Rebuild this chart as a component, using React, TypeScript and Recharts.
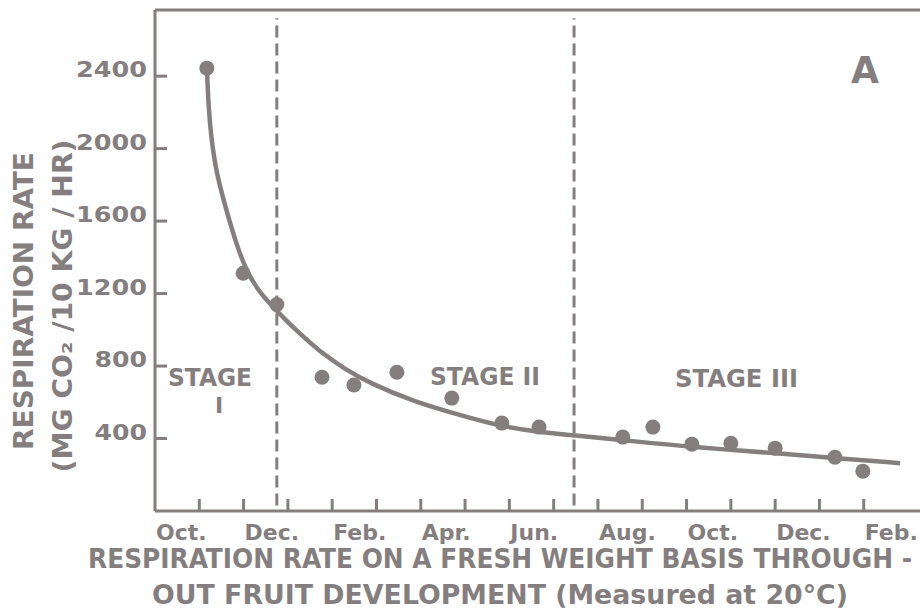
import React from 'react';
import { ComposedChart, Line, Scatter, XAxis, YAxis, ReferenceLine, Customized } from 'recharts';

const INK = '#847e7f';
const FONT = '"DejaVu Sans", "Open Sans", sans-serif';
const FONT_NARROW = '"DejaVu Sans Condensed", "DejaVu Sans", sans-serif';

// measured samples (month index from start of October, respiration rate)
const sampleMonths = [1.17, 1.99, 2.75, 3.77, 4.49, 5.46, 6.7, 7.83, 8.67, 10.56, 11.24, 12.12, 13.0, 14.0, 15.35, 15.98];
const sampleRates = [2444, 1312, 1140, 738, 695, 766, 623, 485, 463, 408, 463, 369, 374, 347, 297, 220];

// fitted curve
const curveMonths = [1.174, 1.208, 1.275, 1.388, 1.58, 1.806, 2.054, 2.325, 2.641, 3.047, 3.386, 3.77, 4.289, 4.853, 5.824, 6.885, 7.788, 8.691, 9.436, 10.56, 12.14, 14.04, 15.4, 16.82];
const curveRates = [2433, 2228, 2046, 1864, 1688, 1494, 1329, 1219, 1130, 1031, 954, 871, 783, 705, 606, 529, 468, 435, 418, 391, 352, 319, 291, 264];

// axes
const monthTicks = [0, 1, 2, 3, 4, 5, 6, 7, 8, 9, 10, 11, 12, 13, 14, 15, 16];
const monthLabels = ['Oct.', '', 'Dec.', '', 'Feb.', '', 'Apr.', '', 'Jun.', '', 'Aug.', '', 'Oct.', '', 'Dec.', '', 'Feb.'];
const rateTicks = [400, 800, 1200, 1600, 2000, 2400];
const xMax = 17.27;
const yMax = 2765;

// stage boundaries
const stageBoundaries = [2.75, 9.46];

const samples = sampleMonths.map((m, i) => ({ m, v: sampleRates[i] }));
const curve = curveMonths.map((m, i) => ({ m, v: curveRates[i] }));

const TICK_LEN = 12;

// custom ticks: inward tick mark + label
const XTick = (props: any) => {
  const { x, y, payload } = props;
  const idx = monthTicks.indexOf(payload.value);
  const label = monthLabels[idx];
  return (
    <g>
      {payload.value > 0 && (
        <path d={`M${x},${y} L${x},${y - TICK_LEN}`} stroke={INK} strokeWidth={3} fill="none" />
      )}
      {label && (
        <text x={x + 1} y={y + 29} textAnchor="start" fill={INK} fontFamily={FONT} fontSize={22} fontWeight="bold">
          {label}
        </text>
      )}
    </g>
  );
};

const YTick = (props: any) => {
  const { x, y, payload } = props;
  const label = String(payload.value);
  return (
    <g>
      <path d={`M${x},${y} L${x + TICK_LEN},${y}`} stroke={INK} strokeWidth={3} fill="none" />
      <text
        x={x - 8}
        y={y + 1}
        textAnchor="end"
        fill={INK}
        fontFamily={FONT}
        fontSize={22}
        fontWeight="bold"
        textLength={label.length * 18.5 - 3}
        lengthAdjust="spacingAndGlyphs"
      >
        {label}
      </text>
    </g>
  );
};

const Annotations = () => (
  <g fill={INK} fontFamily={FONT} fontWeight="bold">
    <text x={168} y={386} fontSize={24} textLength={84} lengthAdjust="spacingAndGlyphs">STAGE</text>
    <text x={219} y={413} fontSize={22} textAnchor="middle">I</text>
    <text x={430} y={385} fontSize={24} textLength={110} lengthAdjust="spacingAndGlyphs">STAGE II</text>
    <text x={675} y={387} fontSize={24} textLength={123} lengthAdjust="spacingAndGlyphs">STAGE III</text>
    <text x={851} y={83} fontSize={38} textLength={28} lengthAdjust="spacingAndGlyphs">A</text>
    <text x={88} y={568} fontSize={26} fontFamily={FONT_NARROW} textLength={824} lengthAdjust="spacingAndGlyphs">
      RESPIRATION RATE ON A FRESH WEIGHT BASIS THROUGH -
    </text>
    <text x={152} y={604} fontSize={26} fontFamily={FONT_NARROW} textLength={696} lengthAdjust="spacingAndGlyphs">
      OUT FRUIT DEVELOPMENT (Measured at 20°C)
    </text>
    <text x={33} y={301} fontSize={26} fontFamily={FONT_NARROW} textAnchor="middle" textLength={298} lengthAdjust="spacingAndGlyphs" transform="rotate(-90 33 301)">
      RESPIRATION RATE
    </text>
    <text x={72} y={306} fontSize={26} fontFamily={FONT_NARROW} textAnchor="middle" textLength={333} lengthAdjust="spacingAndGlyphs" transform="rotate(-90 72 306)">
      (MG CO₂ /10 KG / HR)
    </text>
  </g>
);

export default function App() {
  return (
    <div style={{ position: 'absolute', left: 0, top: 0, width: 920, height: 609, background: '#fff' }}>
      <ComposedChart width={920} height={609} margin={{ top: 10, right: 0, bottom: 58, left: 95 }}>
        <XAxis
          type="number"
          dataKey="m"
          domain={[0, xMax]}
          allowDataOverflow
          ticks={monthTicks}
          interval={0}
          tickLine={false}
          tickSize={0}
          tickMargin={0}
          height={40}
          axisLine={{ stroke: INK, strokeWidth: 3 }}
          tick={(p: any) => <XTick {...p} />}
        />
        <YAxis
          type="number"
          dataKey="v"
          domain={[0, yMax]}
          allowDataOverflow
          ticks={rateTicks}
          interval={0}
          tickLine={false}
          tickSize={0}
          tickMargin={0}
          width={60}
          axisLine={{ stroke: INK, strokeWidth: 3 }}
          tick={(p: any) => <YTick {...p} />}
        />
        <ReferenceLine y={yMax} stroke={INK} strokeWidth={3} />
        {stageBoundaries.map((b) => (
          <ReferenceLine
            key={b}
            segment={[{ x: b, y: 30 }, { x: b, y: 2720 }]}
            stroke={INK}
            strokeWidth={3}
            strokeDasharray="12 6"
          />
        ))}
        <Line
          data={curve}
          dataKey="v"
          type="basis"
          stroke={INK}
          strokeWidth={4.5}
          dot={false}
          activeDot={false}
          isAnimationActive={false}
        />
        <Scatter
          data={samples}
          dataKey="v"
          fill={INK}
          isAnimationActive={false}
          shape={(p: any) => <circle cx={p.cx} cy={p.cy} r={7.5} fill={INK} />}
        />
        <Customized component={<Annotations />} />
      </ComposedChart>
    </div>
  );
}
